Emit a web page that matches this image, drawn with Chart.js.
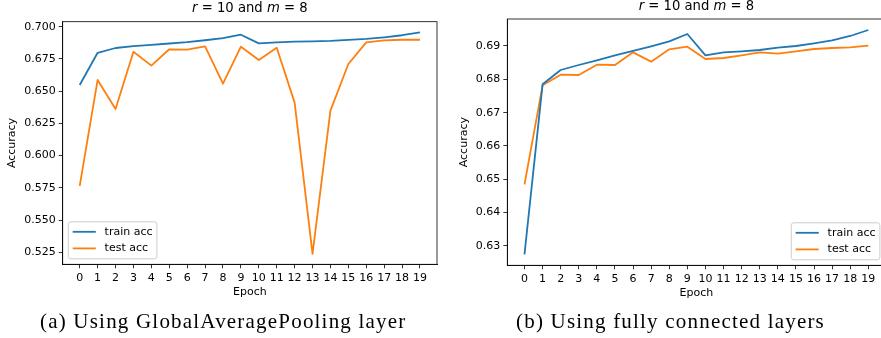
<!DOCTYPE html>
<html>
<head>
<meta charset="utf-8">
<script src="https://cdn.jsdelivr.net/npm/chart.js@4.4.0/dist/chart.umd.min.js"></script>
<style>
  html, body { margin: 0; padding: 0; background: #fff; overflow: hidden; width: 881px; height: 338px; }
  canvas { position: absolute; top: 0; }
  #chartA { left: 0; }
  #chartB { left: 440px; }
  .caption { position: absolute; top: 309px; font-family: "Liberation Serif", serif; font-size: 21px; letter-spacing: 1.2px; color: #000; white-space: nowrap; }
</style>
</head>
<body>
<canvas id="chartA" width="440" height="310"></canvas>
<canvas id="chartB" width="450" height="310"></canvas>
<div class="caption" style="left:40px">(a) Using GlobalAveragePooling layer</div>
<div class="caption" style="left:516px">(b) Using fully connected layers</div>
<script>
// per-epoch accuracy
const epochs = [0, 1, 2, 3, 4, 5, 6, 7, 8, 9, 10, 11, 12, 13, 14, 15, 16, 17, 18, 19];

// GlobalAveragePooling model
const gapTrain = [0.6548, 0.6798, 0.6835, 0.6850, 0.6860, 0.6870, 0.6880, 0.6895, 0.6912, 0.6938,
                  0.6871, 0.6878, 0.6884, 0.6887, 0.6890, 0.6898, 0.6905, 0.6918, 0.6934, 0.6956];
const gapTest  = [0.5765, 0.6587, 0.6362, 0.6806, 0.6698, 0.6825, 0.6822, 0.6848, 0.6558, 0.6845,
                  0.6742, 0.6837, 0.6411, 0.5238, 0.6349, 0.6711, 0.6879, 0.6894, 0.6899, 0.6899];

// fully connected model
const fcTrain = [0.6275, 0.6785, 0.6828, 0.6843, 0.6857, 0.6872, 0.6885, 0.6899, 0.6914, 0.6936,
                 0.6872, 0.6881, 0.6884, 0.6888, 0.6895, 0.6900, 0.6908, 0.6917, 0.6930, 0.6948];
const fcTest  = [0.6485, 0.6782, 0.6814, 0.6813, 0.6844, 0.6843, 0.6881, 0.6853, 0.6890, 0.6898,
                 0.6861, 0.6864, 0.6872, 0.6881, 0.6877, 0.6884, 0.6891, 0.6894, 0.6896, 0.6901];

const seriesNames = ["train acc", "test acc"];
const seriesColors = ["#1f77b4", "#ff7f0e"];
const titleParts = [["r", true], [" = 10 and ", false], ["m", true], [" = 8", false]];

Chart.defaults.font.family = "'DejaVu Sans', sans-serif";
Chart.defaults.font.size = 11;
Chart.defaults.color = "#000";

// axes box on all four sides
const framePlugin = {
  id: "frame",
  afterDatasetsDraw(chart) {
    const { ctx, chartArea: a } = chart;
    ctx.save();
    ctx.strokeStyle = "#000";
    ctx.lineWidth = 0.8;
    ctx.strokeRect(a.left, a.top, a.right - a.left, a.bottom - a.top);
    ctx.restore();
  }
};

// title with italic variable names
const mathTitle = {
  id: "mathTitle",
  afterDraw(chart, args, opts) {
    const { ctx, chartArea: a } = chart;
    const font = (it) => (it ? "italic " : "") + "13.2px 'DejaVu Sans'";
    ctx.save();
    ctx.fillStyle = "#000";
    ctx.textBaseline = "middle";
    ctx.textAlign = "left";
    let total = 0;
    for (const [t, it] of titleParts) { ctx.font = font(it); total += ctx.measureText(t).width; }
    let x = (a.left + a.right) / 2 - total / 2;
    for (const [t, it] of titleParts) {
      ctx.font = font(it);
      ctx.fillText(t, x, opts.y);
      x += ctx.measureText(t).width;
    }
    ctx.restore();
  }
};

// matplotlib-like legend box inside the axes
const boxLegend = {
  id: "boxLegend",
  afterDraw(chart, args, opts) {
    const { ctx, chartArea: a } = chart;
    const fs = 11;
    ctx.save();
    ctx.font = fs + "px 'DejaVu Sans'";
    const sets = chart.data.datasets;
    const textW = Math.max(...sets.map(d => ctx.measureText(d.label).width));
    const w = fs * 0.4 * 2 + fs * 2.1 + fs * 0.8 + textW;
    const h = 37;
    const x = opts.side === "left" ? a.left + 5.6 : a.right - 5.6 - w;
    const y = a.bottom - 5.5 - h;
    ctx.beginPath();
    ctx.roundRect(x, y, w, h, 2.5);
    ctx.fillStyle = "rgba(255,255,255,0.8)";
    ctx.fill();
    ctx.strokeStyle = "#cccccc";
    ctx.lineWidth = 1;
    ctx.stroke();
    sets.forEach((d, i) => {
      const cy = y + 10 + i * 16.6;
      const lx = x + fs * 0.4;
      ctx.beginPath();
      ctx.moveTo(lx, cy);
      ctx.lineTo(lx + fs * 2.1, cy);
      ctx.strokeStyle = d.borderColor;
      ctx.lineWidth = 1.8;
      ctx.stroke();
      ctx.fillStyle = "#000";
      ctx.textBaseline = "middle";
      ctx.fillText(d.label, lx + fs * 2.1 + fs * 0.8, cy);
    });
    ctx.restore();
  }
};

function makeChart(id, train, test, cfg) {
  return new Chart(document.getElementById(id), {
    type: "line",
    data: {
      labels: epochs,
      datasets: [train, test].map((vals, i) => ({
        label: seriesNames[i],
        data: vals,
        borderColor: seriesColors[i],
        backgroundColor: seriesColors[i],
        borderWidth: 1.8,
        pointRadius: 0,
        tension: 0,
        borderJoinStyle: "round"
      }))
    },
    options: {
      responsive: false,
      devicePixelRatio: 1,
      animation: false,
      events: [],
      layout: { padding: cfg.padding },
      plugins: {
        legend: { display: false },
        tooltip: { enabled: false },
        mathTitle: { y: cfg.titleY },
        boxLegend: { side: cfg.legendSide }
      },
      scales: {
        x: {
          type: "linear",
          min: -0.95,
          max: 19.95,
          afterFit: (s) => { s.height = cfg.xHeight; },
          grid: { drawOnChartArea: false, drawTicks: true, tickLength: 4, tickWidth: 0.8, tickColor: "#000" },
          border: { display: true, color: "#000", width: 0.8 },
          ticks: { stepSize: 1, includeBounds: false, autoSkip: false, maxRotation: 0, padding: 3, color: "#000" },
          title: { display: true, text: "Epoch", padding: 0, color: "#000", font: { size: 11 } }
        },
        y: {
          min: cfg.yMin,
          max: cfg.yMax,
          afterFit: (s) => { s.width = cfg.yWidth; },
          grid: { drawOnChartArea: false, drawTicks: true, tickLength: 4, tickWidth: 0.8, tickColor: "#000" },
          border: { display: true, color: "#000", width: 0.8 },
          ticks: {
            stepSize: cfg.yStep,
            includeBounds: false,
            padding: 3,
            color: "#000",
            callback: (v) => v.toFixed(cfg.digits)
          },
          title: { display: true, text: "Accuracy", padding: 0, color: "#000", font: { size: 11 } }
        }
      }
    },
    plugins: [framePlugin, mathTitle, boxLegend]
  });
}

makeChart("chartA", gapTrain, gapTest, {
  padding: { left: 5.9, top: 21.7, right: 3, bottom: 11.4 },
  xHeight: 34.3, yWidth: 56.8,
  yMin: 0.5157, yMax: 0.7039, yStep: 0.025, digits: 3,
  titleY: 9, legendSide: "left"
});

makeChart("chartB", fcTrain, fcTest, {
  padding: { left: 17.4, top: 19, right: 4.5, bottom: 10.1 },
  xHeight: 34.6, yWidth: 49.9,
  yMin: 0.6242, yMax: 0.6981, yStep: 0.01, digits: 2,
  titleY: 7, legendSide: "right"
});
</script>
</body>
</html>
